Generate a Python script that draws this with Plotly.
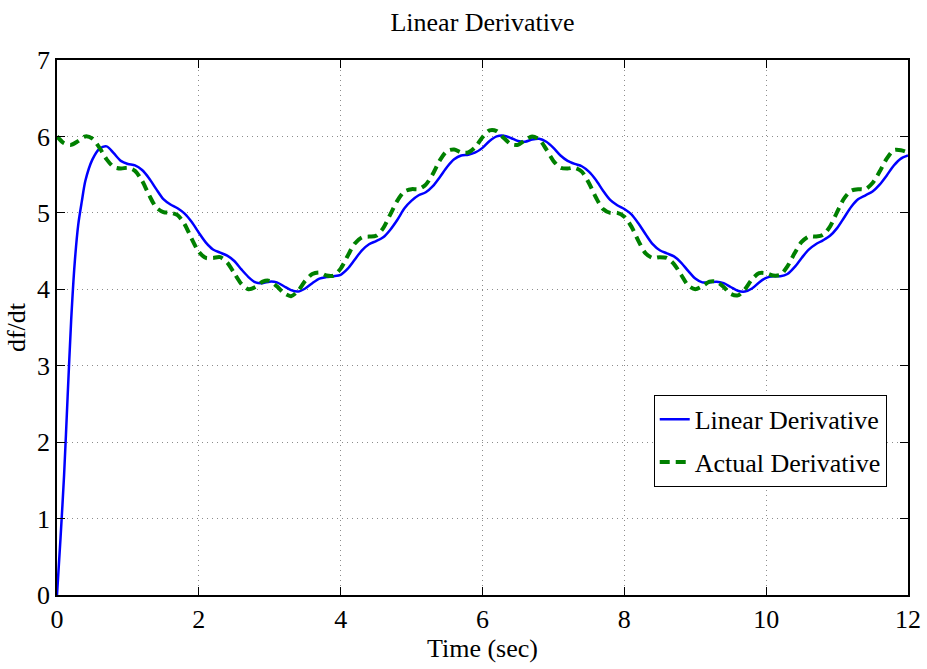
import plotly.graph_objects as go

# Time grid (sec) for the actual derivative
TIME = [0.0, 0.1, 0.2, 0.3, 0.4, 0.5, 0.6, 0.7, 0.8, 0.9,
        1.0, 1.1, 1.2, 1.3, 1.4, 1.5, 1.6, 1.7, 1.8, 1.9,
        2.0, 2.1, 2.2, 2.3, 2.4, 2.5, 2.6, 2.7, 2.8, 2.9,
        3.0, 3.1, 3.2, 3.3, 3.4, 3.5, 3.6, 3.7, 3.8, 3.9,
        4.0, 4.1, 4.2, 4.3, 4.4, 4.5, 4.6, 4.7, 4.8, 4.9,
        5.0, 5.1, 5.2, 5.3, 5.4, 5.5, 5.6, 5.7, 5.8, 5.9,
        6.0, 6.1, 6.2, 6.3, 6.4, 6.5, 6.6, 6.7, 6.8, 6.9,
        7.0, 7.1, 7.2, 7.3, 7.4, 7.5, 7.6, 7.7, 7.8, 7.9,
        8.0, 8.1, 8.2, 8.3, 8.4, 8.5, 8.6, 8.7, 8.8, 8.9,
        9.0, 9.1, 9.2, 9.3, 9.4, 9.5, 9.6, 9.7, 9.8, 9.9,
        10.0, 10.1, 10.2, 10.3, 10.4, 10.5, 10.6, 10.7, 10.8, 10.9,
        11.0, 11.1, 11.2, 11.3, 11.4, 11.5, 11.6, 11.7, 11.8, 11.9,
        12.0]

ACTUAL = [6.00, 5.91, 5.89, 5.94, 6.00, 5.97, 5.85, 5.70, 5.60, 5.58,
          5.59, 5.55, 5.42, 5.23, 5.07, 5.01, 5.00, 4.97, 4.85, 4.66,
          4.49, 4.41, 4.41, 4.42, 4.35, 4.21, 4.07, 4.00, 4.03, 4.10,
          4.11, 4.04, 3.95, 3.91, 3.98, 4.11, 4.20, 4.22, 4.18, 4.18,
          4.27, 4.44, 4.60, 4.68, 4.69, 4.70, 4.80, 4.98, 5.16, 5.28,
          5.31, 5.31, 5.37, 5.51, 5.69, 5.81, 5.83, 5.79, 5.79, 5.86,
          5.99, 6.08, 6.07, 5.98, 5.90, 5.89, 5.95, 6.00, 5.96, 5.83,
          5.68, 5.59, 5.58, 5.59, 5.54, 5.39, 5.20, 5.05, 5.00, 5.00,
          4.95, 4.82, 4.63, 4.47, 4.41, 4.42, 4.41, 4.33, 4.19, 4.05,
          4.00, 4.04, 4.10, 4.10, 4.03, 3.94, 3.92, 4.00, 4.13, 4.21,
          4.21, 4.18, 4.19, 4.30, 4.47, 4.62, 4.69, 4.69, 4.71, 4.82,
          5.01, 5.19, 5.29, 5.31, 5.31, 5.39, 5.54, 5.71, 5.82, 5.82,
          5.79]

# Time grid (sec) for the linear derivative (denser at the start-up transient)
TIME_LIN = [0.0, 0.05, 0.1, 0.15, 0.2, 0.25, 0.3, 0.35, 0.4, 0.5, 0.6, 0.7,
            0.8, 0.9,
            1.0, 1.1, 1.2, 1.3, 1.4, 1.5, 1.6, 1.7, 1.8, 1.9,
            2.0, 2.1, 2.2, 2.3, 2.4, 2.5, 2.6, 2.7, 2.8, 2.9,
            3.0, 3.1, 3.2, 3.3, 3.4, 3.5, 3.6, 3.7, 3.8, 3.9,
            4.0, 4.1, 4.2, 4.3, 4.4, 4.5, 4.6, 4.7, 4.8, 4.9,
            5.0, 5.1, 5.2, 5.3, 5.4, 5.5, 5.6, 5.7, 5.8, 5.9,
            6.0, 6.1, 6.2, 6.3, 6.4, 6.5, 6.6, 6.7, 6.8, 6.9,
            7.0, 7.1, 7.2, 7.3, 7.4, 7.5, 7.6, 7.7, 7.8, 7.9,
            8.0, 8.1, 8.2, 8.3, 8.4, 8.5, 8.6, 8.7, 8.8, 8.9,
            9.0, 9.1, 9.2, 9.3, 9.4, 9.5, 9.6, 9.7, 9.8, 9.9,
            10.0, 10.1, 10.2, 10.3, 10.4, 10.5, 10.6, 10.7, 10.8, 10.9,
            11.0, 11.1, 11.2, 11.3, 11.4, 11.5, 11.6, 11.7, 11.8, 11.9,
            12.0]

LINEAR = [0.00, 0.75, 1.57, 2.60, 3.60, 4.35, 4.85, 5.15, 5.42, 5.70, 5.84, 5.87,
          5.78, 5.68,
          5.64, 5.62, 5.56, 5.45, 5.31, 5.18, 5.11, 5.06, 4.99, 4.88,
          4.74, 4.61, 4.52, 4.48, 4.44, 4.37, 4.26, 4.16, 4.09, 4.08,
          4.10, 4.09, 4.04, 3.99, 3.97, 4.01, 4.08, 4.14, 4.16, 4.17,
          4.19, 4.27, 4.39, 4.51, 4.59, 4.63, 4.68, 4.78, 4.91, 5.06,
          5.16, 5.23, 5.27, 5.35, 5.47, 5.60, 5.70, 5.75, 5.76, 5.79,
          5.85, 5.94, 6.00, 6.01, 5.98, 5.94, 5.93, 5.96, 5.97, 5.93,
          5.85, 5.75, 5.68, 5.64, 5.61, 5.54, 5.43, 5.29, 5.17, 5.10,
          5.05, 4.98, 4.86, 4.72, 4.59, 4.51, 4.47, 4.43, 4.35, 4.24,
          4.14, 4.09, 4.09, 4.10, 4.08, 4.03, 3.98, 3.97, 4.01, 4.09,
          4.15, 4.17, 4.17, 4.20, 4.29, 4.41, 4.52, 4.59, 4.64, 4.70,
          4.80, 4.94, 5.08, 5.18, 5.23, 5.28, 5.37, 5.49, 5.62, 5.71,
          5.75]

X_TICKS = [0, 2, 4, 6, 8, 10, 12]
Y_TICKS = [0, 1, 2, 3, 4, 5, 6, 7]

FONT = "Liberation Serif"

fig = go.Figure()
fig.add_trace(go.Scatter(
    x=TIME_LIN, y=LINEAR, mode="lines", name="Linear Derivative", legendgroup="lin",
    line=dict(color="#0000ff", width=2.5, shape="spline", smoothing=0.8),
))
fig.add_trace(go.Scatter(
    x=TIME, y=ACTUAL, mode="lines", name="Actual Derivative", legendgroup="act",
    line=dict(color="#008000", width=4, dash="10px,6px", shape="spline", smoothing=0.8),
))

axis_common = dict(
    ticks="inside", ticklen=8, tickwidth=1, tickcolor="black",
    showline=True, linecolor="black", linewidth=1.5, mirror="ticks",
    showgrid=True, gridcolor="#8c8c8c", gridwidth=1, griddash="1px,4px",
    zeroline=False, automargin=False,
    tickfont=dict(family=FONT, size=26, color="black"),
)

fig.update_layout(
    width=927, height=669,
    margin=dict(l=57, r=19, t=60, b=74, autoexpand=False),
    paper_bgcolor="white", plot_bgcolor="white",
    font=dict(family=FONT, color="black"),
    title=dict(text="Linear Derivative", x=0.5, xref="paper", xanchor="center",
               y=1 - 22 / 669, yref="container", yanchor="middle",
               font=dict(family=FONT, size=26, color="black")),
    xaxis=dict(range=[0, 12], tickvals=X_TICKS,
               title=dict(text="Time (sec)", font=dict(family=FONT, size=26), standoff=2),
               **axis_common),
    yaxis=dict(range=[0, 7], tickvals=Y_TICKS,
               title=dict(text="df/dt", font=dict(family=FONT, size=26), standoff=4),
               **axis_common),
    legend=dict(x=0.975, xanchor="right", y=0.374, yanchor="top",
                bgcolor="white", bordercolor="black", borderwidth=1,
                font=dict(family=FONT, size=26, color="black"),
                traceorder="grouped", tracegroupgap=6),
    showlegend=True,
)

fig.write_html("out.html")
